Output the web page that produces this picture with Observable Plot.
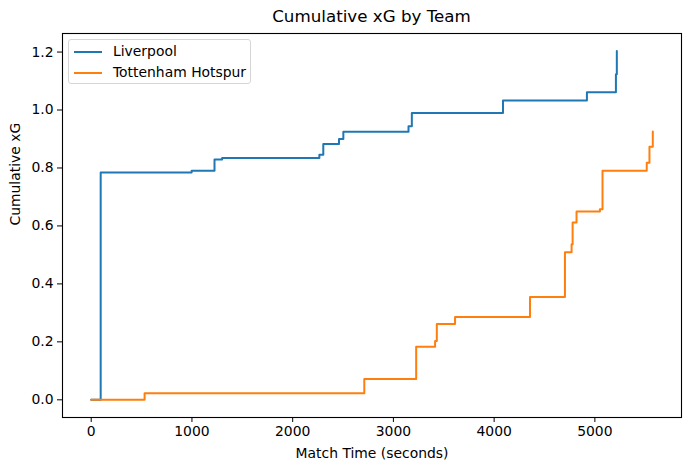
<!DOCTYPE html>
<html>
<head>
<meta charset="utf-8">
<script src="https://cdn.jsdelivr.net/npm/d3@7"></script>
<script src="https://cdn.jsdelivr.net/npm/@observablehq/plot@0.6"></script>
<style>
  html, body { margin: 0; padding: 0; background: #fff; }
  #wrap { position: relative; width: 691px; height: 470px; font-family: "DejaVu Sans", sans-serif; }
  #title { position: absolute; left: 62px; width: 619px; top: 5px; text-align: center; font-size: 16.7px; color: #000; line-height: 22px; }
  #chart { position: absolute; left: 0; top: 32px; }
  #legend { position: absolute; left: 68px; top: 39px; width: 183px; height: 45px; box-sizing: border-box;
            border: 1px solid #d6d6d6; border-radius: 3px; background: rgba(255,255,255,0.8); font-size: 13.9px; }
  .row { position: absolute; left: 0; height: 20px; line-height: 20px; }
  .sw { position: absolute; left: 5px; width: 28px; height: 0; border-top: 2px solid; top: 10px; }
  .lbl { position: absolute; left: 44px; white-space: nowrap; color: #000; }
</style>
</head>
<body>
<div id="wrap">
  <div id="title">Cumulative xG by Team</div>
  <div id="chart"></div>
  <div id="legend"></div>
</div>
<script>
const teams = ["Liverpool", "Tottenham Hotspur"];
const teamColors = ["#1f77b4", "#ff7f0e"];

const liverpoolTime = [0, 94, 997, 1224, 1300, 2265, 2304, 2460, 2503, 3150, 3183, 4088, 4921, 5209, 5218];
const liverpoolXG   = [0, 0.784, 0.790, 0.829, 0.834, 0.846, 0.883, 0.900, 0.925, 0.944, 0.990, 1.033, 1.061, 1.123, 1.204];

const tottenhamTime = [0, 530, 2711, 3226, 3414, 3431, 3612, 4356, 4703, 4769, 4779, 4818, 5050, 5076, 5515, 5542, 5575];
const tottenhamXG   = [0, 0.023, 0.072, 0.183, 0.203, 0.262, 0.286, 0.355, 0.509, 0.537, 0.612, 0.650, 0.658, 0.790, 0.818, 0.873, 0.926];

const xTicks = [0, 1000, 2000, 3000, 4000, 5000];
const yTicks = [0.0, 0.2, 0.4, 0.6, 0.8, 1.0, 1.2];

const rows = [
  ...liverpoolTime.map((t, i) => ({team: teams[0], t, xg: liverpoolXG[i]})),
  ...tottenhamTime.map((t, i) => ({team: teams[1], t, xg: tottenhamXG[i]}))
];

const chart = Plot.plot({
  width: 691,
  height: 438,
  marginTop: 1,
  marginBottom: 53,
  marginLeft: 62,
  marginRight: 10,
  style: {fontFamily: "DejaVu Sans, sans-serif", fontSize: "13.9px", color: "#000", background: "#fff"},
  x: {domain: [-285, 5860]},
  y: {domain: [-0.061, 1.264]},
  color: {domain: teams, range: teamColors},
  marks: [
    Plot.line(rows, {x: "t", y: "xg", z: "team", stroke: "team", curve: "step-after", strokeWidth: 2}),
    Plot.frame({stroke: "#000", strokeWidth: 1.1}),
    Plot.axisX({ticks: xTicks, tickFormat: d => String(d), tickSize: 5, tickPadding: 4, fontSize: 13.9,
                label: null}),
    Plot.axisY({ticks: yTicks, tickFormat: d3.format(".1f"), tickSize: 5, tickPadding: 4, fontSize: 13.9,
                label: null}),
    Plot.text(["Match Time (seconds)"], {frameAnchor: "bottom", dy: 36, fontSize: 13.9, lineAnchor: "middle"}),
    Plot.text(["Cumulative xG"], {frameAnchor: "left", dx: -47, rotate: -90, fontSize: 13.9, lineAnchor: "middle"})
  ]
});
document.getElementById("chart").appendChild(chart);

const legend = document.getElementById("legend");
teams.forEach((name, i) => {
  const row = document.createElement("div");
  row.className = "row";
  row.style.top = (1 + i * 21) + "px";
  row.innerHTML = `<span class="sw" style="border-color:${teamColors[i]}"></span><span class="lbl">${name}</span>`;
  legend.appendChild(row);
});
</script>
</body>
</html>
